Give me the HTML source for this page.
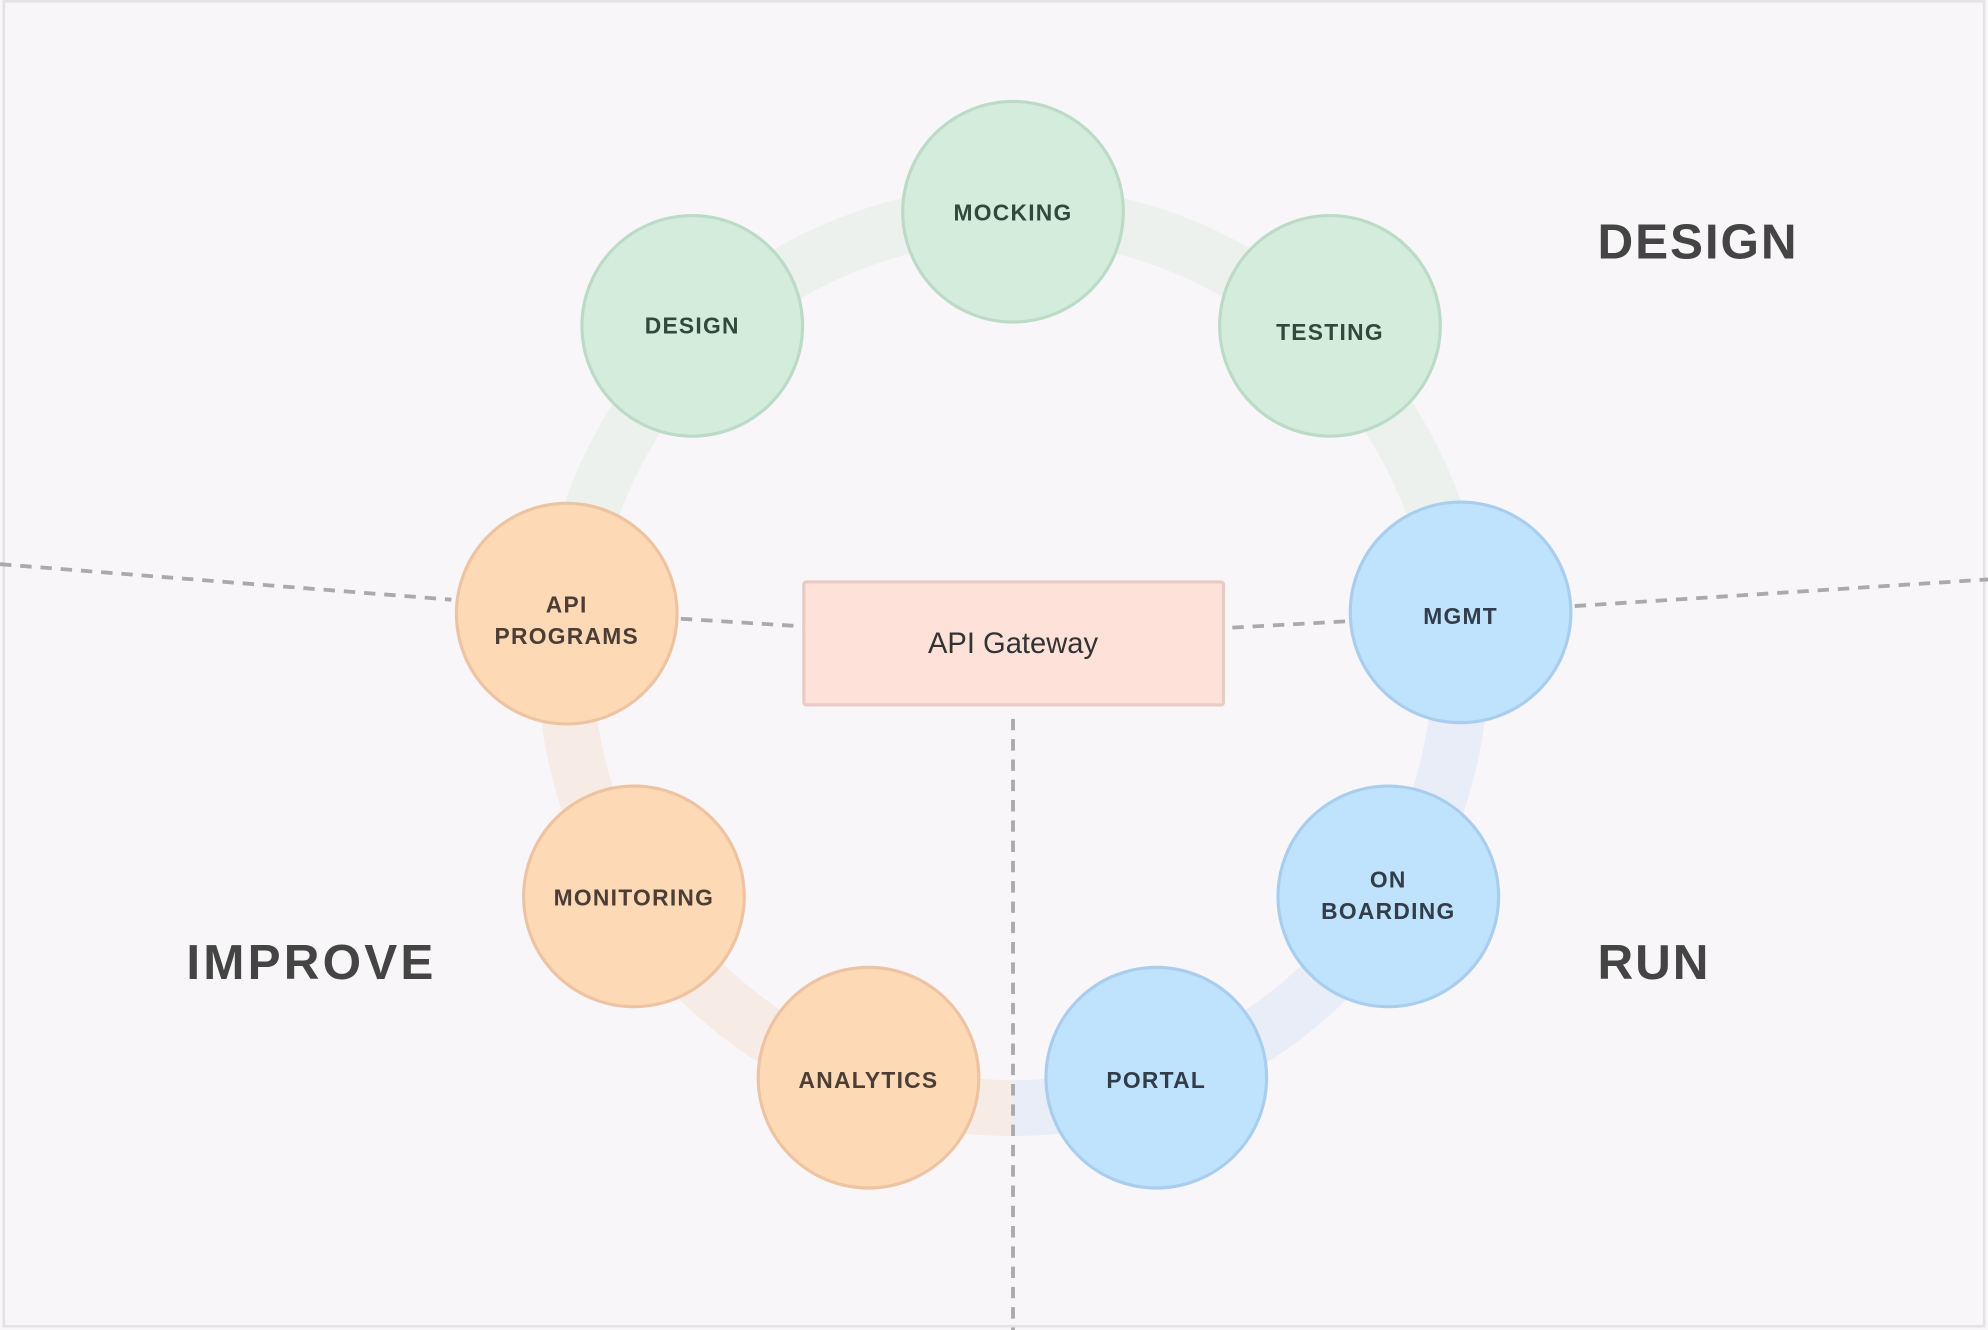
<!DOCTYPE html>
<html><head><meta charset="utf-8"><style>html,body{margin:0;padding:0;background:#f8f6f8}svg{display:block}</style></head>
<body>
<svg width="1988" height="1330" viewBox="0 0 1568 1049" xmlns="http://www.w3.org/2000/svg" font-family="Liberation Sans, sans-serif">
<rect x="0" y="0" width="1568" height="1049" fill="#f8f6f8"/>
<rect x="3" y="1" width="1562" height="1045" fill="none" stroke="#e4e2e4" stroke-width="2"/>
<g fill="none" stroke-width="44">
<path d="M446 521 A353 353 0 0 1 1152 521" stroke="#edf1ee"/>
<path d="M1152 521 A353 353 0 0 1 799 874" stroke="#e8edf8"/>
<path d="M799 874 A353 353 0 0 1 446 521" stroke="#f6ebe5"/>
</g>
<g stroke="#aaaaaa" stroke-width="3" stroke-dasharray="9 7" fill="none">
<line x1="0" y1="445" x2="356" y2="473"/>
<line x1="537" y1="488" x2="633" y2="494"/>
<line x1="972" y1="495" x2="1062" y2="490"/>
<line x1="1242" y1="478" x2="1568" y2="457"/>
<line x1="799" y1="567" x2="799" y2="1049"/>
</g>
<rect x="634" y="459" width="331" height="97" rx="2" fill="#fee2d9" stroke="#e8cbc5" stroke-width="2.5"/>
<text x="799" y="515" text-anchor="middle" font-size="23" fill="#333">API Gateway</text>
<g stroke-width="2.5">
<circle cx="799" cy="167" r="87" fill="#d3ecdc" stroke="#bcdbc6"/>
<circle cx="546" cy="257" r="87" fill="#d3ecdc" stroke="#bcdbc6"/>
<circle cx="1049" cy="257" r="87" fill="#d3ecdc" stroke="#bcdbc6"/>
<circle cx="1152" cy="483" r="87" fill="#bfe3fd" stroke="#a9cdef"/>
<circle cx="1095" cy="707" r="87" fill="#bfe3fd" stroke="#a9cdef"/>
<circle cx="912" cy="850" r="87" fill="#bfe3fd" stroke="#a9cdef"/>
<circle cx="685" cy="850" r="87" fill="#fed9b6" stroke="#eec3a2"/>
<circle cx="500" cy="707" r="87" fill="#fed9b6" stroke="#eec3a2"/>
<circle cx="447" cy="484" r="87" fill="#fed9b6" stroke="#eec3a2"/>
</g>
<g font-size="18" font-weight="bold" text-anchor="middle" letter-spacing="1">
<g fill="#2f4a3a">
<text x="799" y="174">MOCKING</text>
<text x="546" y="263">DESIGN</text>
<text x="1049" y="268">TESTING</text>
</g>
<g fill="#333d4a">
<text x="1152" y="492">MGMT</text>
<text x="1095" y="700">ON</text>
<text x="1095" y="725">BOARDING</text>
<text x="912" y="858">PORTAL</text>
</g>
<g fill="#4a3e36">
<text x="685" y="858">ANALYTICS</text>
<text x="500" y="714">MONITORING</text>
<text x="447" y="483">API</text>
<text x="447" y="508">PROGRAMS</text>
</g>
</g>
<g font-size="39" font-weight="bold" fill="#444" letter-spacing="1.5">
<text x="1260" y="204">DESIGN</text>
<text x="147" y="772" letter-spacing="2.5">IMPROVE</text>
<text x="1260" y="772">RUN</text>
</g>
</svg>
</body></html>
